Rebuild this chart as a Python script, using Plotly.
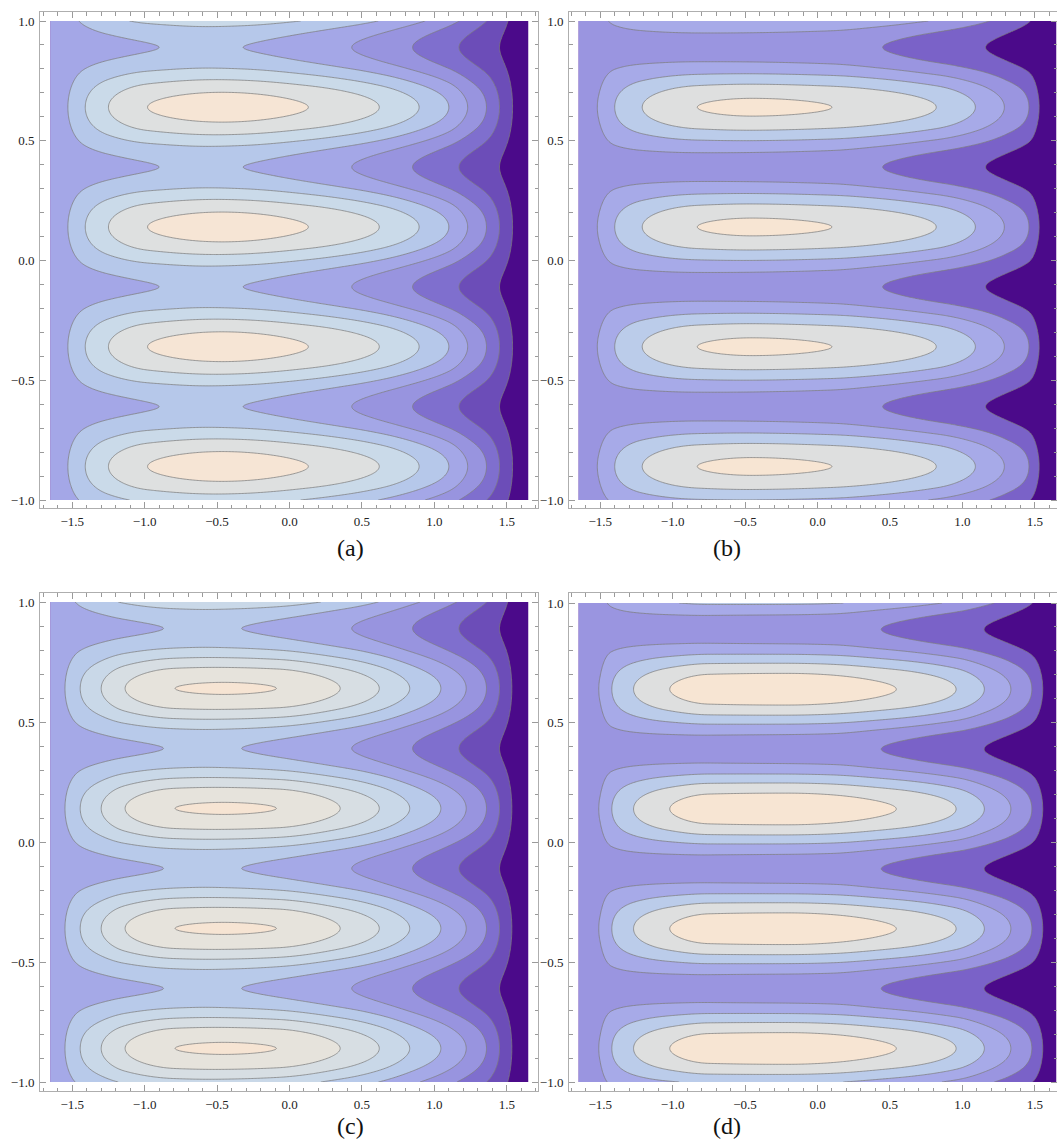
import numpy as np
import plotly.graph_objects as go

W, H = 1057, 1144

# Extent of the sampled field
X_LIMITS = [-1.65, 1.65]
Y_LIMITS = [-1.0, 1.0]
ROW_PERIOD = 0.5      # distance between neighbouring bright rows
ROW_CENTER = 0.14     # y of one bright row

# Axis ticks
x_major = [-1.5, -1.0, -0.5, 0.0, 0.5, 1.0, 1.5]
x_major_text = ["−1.5", "−1.0", "−0.5", "0.0", "0.5", "1.0", "1.5"]
y_major = [-1.0, -0.5, 0.0, 0.5, 1.0]
y_major_text = ["−1.0", "−0.5", "0.0", "0.5", "1.0"]
minor_step = 0.1

panel_labels = ["(a)", "(b)", "(c)", "(d)"]

# Profiles of the field (in contour-band units) along a bright row ("ridge")
# and along the row halfway between two bright rows ("gap").
# Band k lies between the contour levels k-0.5 and k+0.5.

# (a)
a_ridge_x = [-1.65, -1.53, -1.41, -1.25, -0.98, -0.45, 0.13, 0.62, 0.895, 1.10, 1.23, 1.36, 1.45, 1.54, 1.65]
a_ridge_z = [3.9, 4.5, 5.5, 6.5, 7.5, 8.0, 7.5, 6.5, 5.5, 4.5, 3.5, 2.5, 1.5, 0.5, -0.5]
a_gap_x = [-1.65, -0.90, -0.62, -0.32, 0.43, 0.85, 1.17, 1.45, 1.65]
a_gap_z = [3.9, 4.5, 4.6, 4.5, 3.5, 2.5, 1.5, 0.5, -0.3]
a_colors = ["#4B0A8A", "#6C4DB8", "#7F6FCE", "#9894DF", "#A4A7E7",
            "#B6C8EA", "#CADAE9", "#DEE0E0", "#F6E5D5"]

# (b)
b_ridge_x = [-1.65, -1.52, -1.40, -1.21, -0.83, -0.45, 0.10, 0.82, 1.09, 1.29, 1.46, 1.53, 1.65]
b_ridge_z = [2.2, 2.5, 3.5, 4.5, 5.5, 5.7, 5.5, 4.5, 3.5, 2.5, 1.5, 0.5, -0.5]
b_gap_x = [-1.65, -0.60, 0.10, 0.45, 0.80, 1.16, 1.65]
b_gap_z = [2.1, 2.0, 1.85, 1.5, 1.0, 0.5, -0.5]
b_colors = ["#4B0A8A", "#7A62C8", "#9A95E0", "#A7AAE8", "#BBCCEA", "#DEDFDF", "#F7E5D3"]

# (c)
c_ridge_x = [-1.65, -1.55, -1.445, -1.30, -1.135, -0.79, -0.45, -0.09, 0.35, 0.62, 0.83, 1.045, 1.22, 1.36, 1.45, 1.535, 1.65]
c_ridge_z = [3.9, 4.5, 5.5, 6.5, 7.5, 8.5, 8.6, 8.5, 7.5, 6.5, 5.5, 4.5, 3.5, 2.5, 1.5, 0.5, -0.5]
c_gap_x = [-1.65, -0.87, -0.60, -0.33, 0.43, 0.85, 1.17, 1.45, 1.65]
c_gap_z = [3.9, 4.5, 4.6, 4.5, 3.5, 2.5, 1.5, 0.5, -0.3]
c_colors = ["#4B0A8A", "#6C4DB8", "#7F6FCE", "#9894DF", "#A5A9E7",
            "#B8CAEA", "#C9D8E8", "#D7DEE3", "#E6E3DC", "#F6E4D3"]

# (d)
d_ridge_x = [-1.65, -1.51, -1.42, -1.27, -1.02, -0.75, -0.20, 0.544, 0.957, 1.152, 1.335, 1.48, 1.555, 1.65]
d_ridge_z = [2.2, 2.5, 3.5, 4.5, 5.5, 6.1, 6.2, 5.5, 4.5, 3.5, 2.5, 1.5, 0.5, -0.5]
d_gap_x = [-1.65, -0.60, 0.10, 0.44, 0.80, 1.15, 1.65]
d_gap_z = [2.1, 1.95, 1.85, 1.5, 1.0, 0.5, -0.5]
d_colors = ["#4B0A8A", "#7A62C8", "#9A95E0", "#A7AAE8", "#BBCCEA", "#DEDFDF", "#F7E5D3"]

# Pixel boxes: outer frame and inner data area (left, top, right, bottom)
frames = [(40, 12, 538, 508), (569, 12, 1066, 508),
          (40, 593, 538, 1091), (569, 593, 1066, 1091)]
data_boxes = [(50.5, 21, 528.5, 500), (578.5, 21, 1056.5, 500),
              (50.5, 602, 528.5, 1082), (578.5, 603, 1056.5, 1082)]
label_pos = [(350, 548), (727, 548), (350, 1126), (727, 1126)]


def pchip(xk, yk, xs):
    """Monotone piecewise-cubic Hermite interpolation."""
    xk = np.asarray(xk, float)
    yk = np.asarray(yk, float)
    h = np.diff(xk)
    delta = np.diff(yk) / h
    n = len(xk)
    d = np.zeros(n)
    for k in range(1, n - 1):
        if delta[k - 1] * delta[k] > 0:
            w1 = 2 * h[k] + h[k - 1]
            w2 = h[k] + 2 * h[k - 1]
            d[k] = (w1 + w2) / (w1 / delta[k - 1] + w2 / delta[k])
    d[0] = delta[0]
    d[-1] = delta[-1]
    i = np.clip(np.searchsorted(xk, xs) - 1, 0, n - 2)
    t = (xs - xk[i]) / h[i]
    h00 = 2 * t**3 - 3 * t**2 + 1
    h10 = t**3 - 2 * t**2 + t
    h01 = -2 * t**3 + 3 * t**2
    h11 = t**3 - t**2
    return h00 * yk[i] + h10 * h[i] * d[i] + h01 * yk[i + 1] + h11 * h[i] * d[i + 1]


def build_field(rx, rz, gx, gz):
    x = np.linspace(X_LIMITS[0], X_LIMITS[1], 331)
    y = np.linspace(Y_LIMITS[0], Y_LIMITS[1], 401)
    ridge = pchip(rx, rz, x)
    gap = pchip(gx, gz, x)
    weight = np.cos(np.pi * (y - ROW_CENTER) / ROW_PERIOD) ** 2
    z = gap[None, :] + (ridge - gap)[None, :] * weight[:, None]
    return x, y, z


panels = [
    (a_ridge_x, a_ridge_z, a_gap_x, a_gap_z, a_colors),
    (b_ridge_x, b_ridge_z, b_gap_x, b_gap_z, b_colors),
    (c_ridge_x, c_ridge_z, c_gap_x, c_gap_z, c_colors),
    (d_ridge_x, d_ridge_z, d_gap_x, d_gap_z, d_colors),
]

fig = go.Figure()
tick_font = dict(family="Liberation Serif, Times New Roman, serif", size=13, color="#222222")
frame_color = "#AEAEAE"
tick_color = "#9A9A9A"

for n, (rx, rz, gx, gz, cols) in enumerate(panels):
    x, y, z = build_field(rx, rz, gx, gz)
    nb = len(cols)
    scale = [[j / (nb - 1), c] for j, c in enumerate(cols)]
    sfx = "" if n == 0 else str(n + 1)
    fig.add_trace(go.Contour(
        x=x, y=y, z=z,
        xaxis="x" + sfx, yaxis="y" + sfx,
        autocontour=False,
        contours=dict(start=0.5, end=nb - 1.5, size=1, coloring="fill", showlines=True),
        colorscale=scale,
        line=dict(color="rgba(125,125,125,0.75)", width=1, smoothing=1),
        showscale=False,
        hoverinfo="skip",
    ))

    fx0, fy0, fx1, fy1 = frames[n]
    dx0, dy0, dx1, dy1 = data_boxes[n]
    fx1 = min(fx1, W)
    xs = (dx1 - dx0) / (X_LIMITS[1] - X_LIMITS[0])
    ys = (dy1 - dy0) / (Y_LIMITS[1] - Y_LIMITS[0])
    xr = [X_LIMITS[0] - (dx0 - fx0) / xs, X_LIMITS[1] + (fx1 - dx1) / xs]
    yr = [Y_LIMITS[0] - (fy1 - dy1) / ys, Y_LIMITS[1] + (dy0 - fy0) / ys]

    common = dict(
        ticks="inside", ticklen=6, tickwidth=1, tickcolor=tick_color,
        showline=True, linecolor=frame_color, linewidth=1, mirror="allticks",
        showgrid=False, zeroline=False, tickfont=tick_font,
        minor=dict(ticks="inside", ticklen=3.5, tickwidth=1, tickcolor=tick_color,
                   dtick=minor_step, tick0=0, showgrid=False),
    )
    fig.layout["xaxis" + sfx] = dict(
        range=xr, domain=[fx0 / W, fx1 / W], anchor="y" + sfx,
        tickmode="array", tickvals=x_major, ticktext=x_major_text,
        ticklabelstandoff=1, **common)
    fig.layout["yaxis" + sfx] = dict(
        range=yr, domain=[1 - fy1 / H, 1 - fy0 / H], anchor="x" + sfx,
        tickmode="array", tickvals=y_major, ticktext=y_major_text,
        ticklabelstandoff=2, **common)

    lx, ly = label_pos[n]
    fig.add_annotation(
        text=panel_labels[n], x=lx / W, y=1 - ly / H, xref="paper", yref="paper",
        xanchor="center", yanchor="middle", showarrow=False,
        font=dict(family="Liberation Serif, Times New Roman, serif", size=24, color="#111111"),
    )

fig.update_layout(
    width=W, height=H,
    margin=dict(l=0, r=0, t=0, b=0),
    paper_bgcolor="white", plot_bgcolor="white",
    showlegend=False,
)

fig.write_html("out.html")
